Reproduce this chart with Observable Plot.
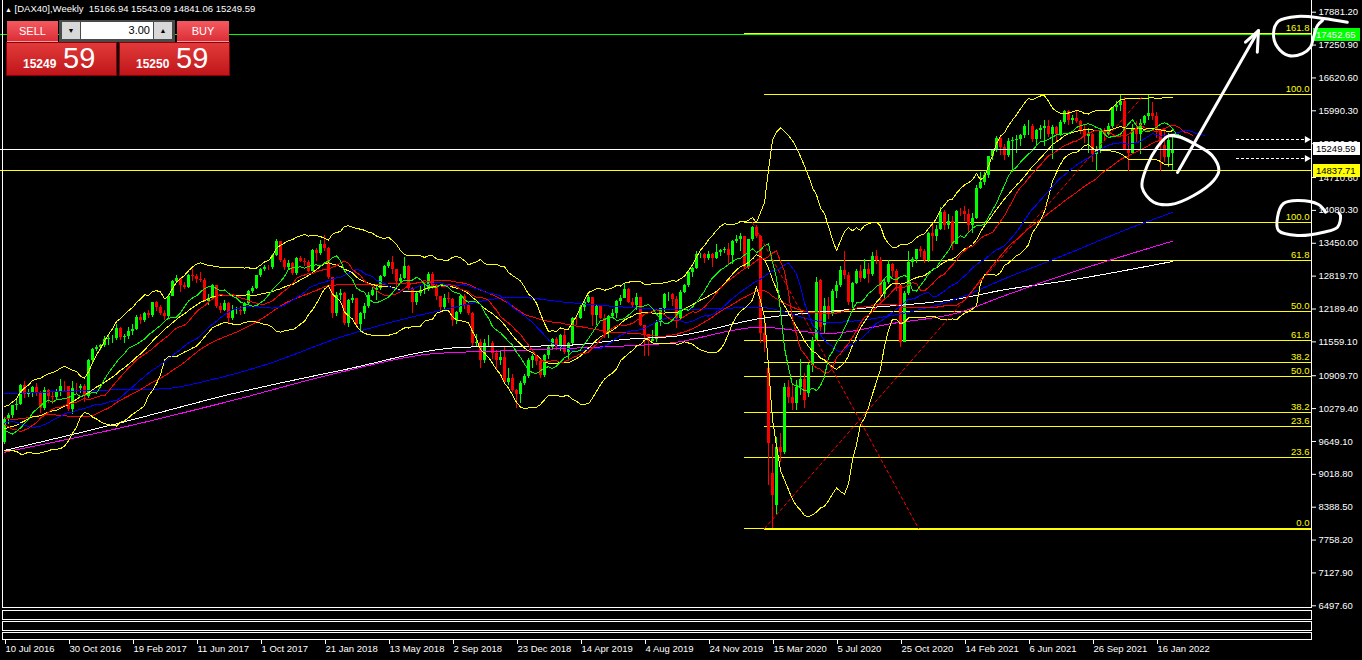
<!DOCTYPE html>
<html><head><meta charset="utf-8">
<script src="https://cdn.jsdelivr.net/npm/d3@7"></script>
<script src="https://cdn.jsdelivr.net/npm/@observablehq/plot@0.6"></script>
<style>
html,body{margin:0;padding:0;background:#000;overflow:hidden;}
#wrap{position:relative;width:1362px;height:660px;overflow:hidden;background:#000;font-family:"Liberation Sans",Arial,sans-serif;}
.abs{position:absolute;box-sizing:border-box;}
#chart,#ann{position:absolute;left:0;top:0;}
#chart svg,#ann svg{display:block;}
#ann{z-index:3;pointer-events:none;}
.frame{border:1px solid #fff;z-index:1;}
.tag{z-index:2;height:13px;width:47px;left:1313px;font-size:9.5px;line-height:13px;padding-left:3px;}
.btn{color:#fff;font-size:11px;text-align:center;line-height:20px;background:linear-gradient(#f45a60,#dc2e37);border-bottom:1px solid #ff9aa0;}
.pbox{top:42px;height:34px;width:111px;background:linear-gradient(#e23a3a,#c0161a);border:1px solid #8a0008;color:#fff;}
.small{position:absolute;font-weight:bold;font-size:12px;line-height:12px;}
.big{position:absolute;font-size:29px;line-height:29px;}
.arrbtn{top:2px;width:18px;height:17px;background:#d8d8d8;color:#000;font-size:7px;text-align:center;line-height:17px;}
</style></head>
<body><div id="wrap">
<div id="chart"></div>
<div id="ann"></div>
<div class="abs frame" style="left:2px;top:-2px;width:1310px;height:610px;"></div>
<div class="abs frame" style="left:2px;top:610px;width:1310px;height:10px;"></div>
<div class="abs frame" style="left:2px;top:621px;width:1310px;height:10px;"></div>
<div class="abs frame" style="left:2px;top:632px;width:1310px;height:8px;"></div>
<div id="hdr" class="abs" style="left:5px;top:3px;color:#fff;font-size:9.5px;white-space:pre;z-index:2;"></div>
<div class="abs btn" style="left:7px;top:21px;width:51px;height:21px;z-index:2;">SELL</div>
<div class="abs" style="left:59px;top:20px;width:116px;height:22px;background:#4a4a4a;z-index:2;">
  <div class="abs arrbtn" style="left:3px;">&#9660;</div>
  <div class="abs" style="left:22px;top:2px;width:72px;height:17px;background:#fff;color:#000;font-size:11px;line-height:17px;text-align:right;padding-right:3px;">3.00</div>
  <div class="abs arrbtn" style="left:95px;">&#9650;</div>
</div>
<div class="abs btn" style="left:177px;top:21px;width:52px;height:21px;z-index:2;">BUY</div>
<div class="abs pbox" style="left:6px;z-index:2;"><span class="small" style="left:16px;top:15px;">15249</span><span class="big" style="left:56px;top:1px;">59</span></div>
<div class="abs pbox" style="left:119px;z-index:2;"><span class="small" style="left:16px;top:15px;">15250</span><span class="big" style="left:56px;top:1px;">59</span></div>
</div>
<script>
// ---------- weekly candles DAX40 (10 Jul 2016 .. 13 Feb 2022) ----------
const open = [9630,10066,10147,10337,10367,10713,10544,10588,10683,10573,
10276,10626,10511,10490,10580,10711,10696,10259,10668,10665,
10700,10513,11203,11404,11450,11481,11599,11629,11630,11814,
11651,11666,11757,11804,12027,11963,12095,12064,12313,12225,
12109,12049,12438,12717,12770,12638,12602,12823,12815,12752,
12733,12325,12389,12631,12240,12163,12298,12014,12165,12168,
12142,12304,12519,12592,12829,12956,12992,12991,13217,13478,
13127,12994,13060,12861,13153,13104,13072,12918,13320,13245,
13434,13341,12785,12107,12452,12483,11913,12346,12390,11886,
12096,12241,12442,12540,12580,12820,13001,13077,12938,12724,
12767,13010,12580,12306,12496,12541,12561,12860,12616,12424,
12210,12394,12364,11960,12124,12431,12247,12111,11523,11553,
11201,11519,11529,11341,11193,11257,10788,10865,10634,10559,
10768,10887,11205,11281,11180,10906,11299,11457,11602,11458,
11685,11364,11526,12010,11999,12222,12315,12412,12060,12238,
12011,11727,12045,12096,12340,12399,12568,12323,12260,12419,
11872,11693,11563,11612,11939,12191,12468,12468,12380,12012,
12511,12633,12894,12961,13228,13241,13163,13236,13166,13282,
13318,13337,13219,13483,13526,13577,12982,13514,13744,13579,
11720,11050,9030,8420,9530,9440,10680,10500,10370,10680,
10840,10560,11100,11580,12730,11880,12230,12089,12528,12633,
12920,12838,12313,12675,12901,12765,12945,12842,13202,13116,
12469,12689,13051,12909,12646,11556,12480,13077,13137,13335,
13298,13114,13630,13587,13718,14049,13787,13873,13432,14056,
14050,13993,13786,13920,14502,14621,14749,15107,15234,15460,
15280,15136,15400,15417,15438,15520,15693,15693,15448,15607,
15650,15688,15540,15669,15544,15761,15977,15808,15852,15781,
15609,15490,15531,15156,15206,15587,15543,15688,16054,16094,
16160,15257,15169,15623,15532,15756,15885,15948,15883,15603,
15318,15099,15166.94];
const high = [10110,10180,10340,10440,10740,10800,10640,10700,10760,10600,
10690,10640,10580,10650,10830,10800,10700,10800,10760,10740,
10750,11220,11430,11480,11500,11670,11700,11690,11890,11830,
11700,11840,11890,12060,12080,12120,12160,12320,12340,12260,
12160,12460,12730,12840,12780,12700,12850,12950,12860,12890,
12780,12470,12660,12640,12300,12350,12320,12250,12220,12230,
12320,12540,12630,12840,12970,13020,13030,13240,13525,13480,
13150,13110,13090,13170,13200,13160,13110,13330,13350,13500,
13600,13370,12790,12500,12560,12510,12380,12470,12400,12130,
12290,12500,12600,12620,12830,13020,13110,13200,12950,12850,
13170,13020,12600,12530,12630,12680,12890,12880,12660,12430,
12460,12500,12400,12150,12440,12460,12330,12120,11700,11600,
11600,11690,11560,11400,11380,11470,11040,10930,10640,10800,
10940,11240,11310,11290,11230,11320,11480,11620,11640,11700,
11790,11550,12020,12050,12250,12340,12440,12400,12250,12200,
12080,12060,12180,12350,12440,12660,12580,12400,12480,12410,
11880,11700,11780,11960,12200,12480,12500,12480,12420,12550,
12660,12900,12990,13290,13250,13260,13300,13250,13420,13330,
13370,13450,13500,13600,13640,13580,13520,13770,13800,13600,
12050,11100,9600,9720,9800,10760,10820,10720,10820,11230,
10950,11150,11650,12800,12750,12400,12410,12560,12710,13000,
13300,12880,12690,12950,13020,13130,13060,13270,13320,13170,
12780,13120,13070,12940,12660,12520,13300,13180,13340,13390,
13330,13650,13790,13800,14130,14070,14000,13960,14080,14110,
14160,14090,14030,14560,14810,14800,15120,15240,15500,15510,
15350,15460,15470,15520,15530,15730,15800,15730,15640,15700,
15810,15800,15700,15690,15810,15990,16000,15900,15990,15810,
15730,15650,15550,15300,15600,15650,15740,16060,16160,16290,
16250,15500,15730,15790,15830,15900,16285,16140,15960,15610,
15650,15550,15543.09];
const low = [9590,9980,10080,10250,10330,10480,10500,10490,10520,10190,
10250,10380,10360,10440,10520,10600,10230,10170,10550,10570,
10400,10480,11160,11380,11400,11450,11480,11530,11580,11580,
11520,11610,11690,11780,11900,11930,12000,12030,12150,12070,
11970,11990,12420,12680,12500,12560,12580,12710,12680,12700,
12320,12250,12370,12200,12110,12140,11900,11960,12080,12070,
12090,12280,12490,12570,12800,12900,12920,12950,13200,13080,
12930,12950,12840,12840,13080,13000,12880,12920,13100,13210,
13290,12760,12000,12050,12350,11880,11830,12300,11830,11730,
11980,12200,12420,12360,12550,12800,12960,12860,12600,12650,
12760,12510,12100,12260,12430,12460,12530,12560,12350,12100,
12170,12300,11860,11900,12090,12180,12070,11450,11450,11050,
11140,11450,11230,11010,11100,10780,10720,10580,10280,10380,
10720,10860,11050,11110,10860,10880,11220,11420,11390,11370,
11310,11220,11490,11880,11990,12140,12290,11860,11880,11990,
11620,11620,12000,12010,12250,12390,12300,12220,12170,11850,
11270,11270,11560,11550,11850,12130,12330,12230,11820,11980,
12490,12600,12800,12950,13150,13060,13120,12980,13140,13200,
13250,13050,13040,13440,13300,12950,12940,13480,13550,11530,
11350,8800,7980,8250,9250,9400,10380,10250,10250,10540,
10290,10500,10980,11560,11760,11700,11980,12050,12400,12600,
12760,12250,12200,12650,12700,12760,12680,12820,13050,12340,
12380,12650,12800,12530,11450,11550,12450,12980,13070,13170,
13060,13090,13300,13480,13700,13690,13720,13310,13420,13960,
13870,13640,13630,13910,14480,14550,14700,15040,15200,15130,
15040,15100,14810,15170,15300,15460,15520,15390,15300,15440,
15300,15480,15050,15400,15500,15730,15710,15720,15740,15530,
15370,15170,15000,14820,15180,15400,15500,15650,15970,15970,
15220,14820,15150,15390,15160,15710,15800,15810,15450,14820,
15000,14900,14841.06];
const close = [10066,10147,10337,10367,10713,10544,10588,10683,10573,10276,
10626,10511,10490,10580,10711,10696,10259,10668,10665,10700,
10513,11203,11404,11450,11481,11599,11629,11630,11814,11651,
11666,11757,11804,12027,11963,12095,12064,12313,12225,12109,
12049,12438,12717,12770,12638,12602,12823,12815,12752,12733,
12325,12389,12631,12240,12163,12298,12014,12165,12168,12142,
12304,12519,12592,12829,12956,12992,12991,13217,13478,13127,
12994,13060,12861,13153,13104,13072,12918,13320,13245,13434,
13341,12785,12107,12452,12483,11913,12346,12390,11886,12096,
12241,12442,12540,12580,12820,13001,13077,12938,12724,12767,
13010,12580,12306,12496,12541,12561,12860,12616,12424,12210,
12394,12364,11960,12124,12431,12247,12111,11523,11553,11201,
11519,11529,11341,11193,11257,10788,10865,10634,10559,10768,
10887,11205,11281,11180,10906,11299,11457,11602,11458,11685,
11364,11526,12010,11999,12222,12315,12412,12060,12238,12011,
11727,12045,12096,12340,12399,12568,12323,12260,12419,11872,
11693,11563,11612,11939,12191,12468,12468,12380,12012,12511,
12633,12894,12961,13228,13241,13163,13236,13166,13282,13318,
13337,13219,13483,13526,13577,12982,13514,13744,13579,11720,
11550,9610,8610,9530,9440,10680,10500,10370,10680,10840,
10430,11100,11580,12700,11830,12230,12089,12528,12633,12920,
12838,12313,12675,12901,12765,12945,12842,13202,13116,12469,
12689,13051,12909,12646,11556,12480,13077,13137,13335,13298,
13114,13630,13587,13718,14049,13787,13873,13432,14056,14050,
13993,13786,13920,14502,14621,14749,15107,15234,15460,15280,
15136,15400,15417,15438,15520,15693,15693,15448,15607,15650,
15688,15540,15669,15544,15761,15977,15808,15852,15781,15609,
15490,15531,15156,15206,15587,15543,15688,16054,16094,16160,
15257,15169,15623,15532,15756,15885,15948,15883,15603,15318,
15099,15425,15249.59];
// weekly closes before the first visible bar (indicator warm-up)
const histClose = [11673,11347,11308,11490,10985,10124,10298,10038,10123,10104,
9688,9553,10096,10104,10795,10850,10988,10708,11119,11293,
10752,10340,10608,10727,10743,9849,9545,9764,9798,9286,
8967,9388,9513,9824,9831,9950,9851,9794,9622,10051,
10373,10039,9870,9952,9917,10287,10103,9834,9631,9558,
9776,9630];

// long moving averages (bar index, value)
const sma100Idx = [0,21,40,51,66,84,109,128,140,155,167,189,206,222,239,249,266,282,292];
const sma100Val = [10564,10627,10659,10819,11139,11649,12161,12416,12321,12225,12175,12219,11931,12065,12410,12737,13255,13759,14041];
const sma200Idx = [0,28,57,84,115,140,157,167,189,214,239,249,266,292];
const sma200Val = [9476,9988,10564,11010,11457,11490,11618,11662,12008,12199,12391,12545,12737,13101];
const emaIdx = [0,28,57,84,107,128,148,167,189,206,222,239,249,266,292];
const emaVal = [9443,9892,10435,10978,11331,11394,11457,11542,11841,11720,11912,12129,12416,12871,13490];

// Fibonacci objects
const fibALabels = ["0.0","23.6","38.2","50.0","61.8","100.0","161.8"];
const fibAPrices = [7980,9342,10199,10889,11579,13848,17473];
const fibAStart = 185;
const fibBLabels = ["0.0","23.6","38.2","50.0","61.8","100.0"];
const fibBPrices = [7962,9930,11158,12141,13119,16297];
const fibBStart = 190;
const fibATrendIdx = [187, 228.5], fibATrendVal = [13848, 7980];
const fibBTrendIdx = [190, 284.75], fibBTrendVal = [7980, 16283];

// horizontal levels
const bid = 15249.59;
const yellowLevel = 14837.71;
const greenLevel = 17452.65;
const orderLevels = [15440, 15075];
const orderFrom = 308, orderTo = 325.6;

// axes
const yTicks = [17881.20,17250.90,16620.60,15990.30,15360.00,14710.60,14080.30,13450.00,12819.70,12189.40,11559.10,10909.70,10279.40,9649.10,9018.80,8388.50,7758.20,7127.90,6497.60];
const xTickIdx = [0,16,32,48,64,80,96,112,128,144,160,176,192,208,224,240,256,272,288];
const xTickLabels = ["10 Jul 2016","30 Oct 2016","19 Feb 2017","11 Jun 2017","1 Oct 2017","21 Jan 2018","13 May 2018","2 Sep 2018","23 Dec 2018","14 Apr 2019","4 Aug 2019","24 Nov 2019","15 Mar 2020","5 Jul 2020","25 Oct 2020","14 Feb 2021","6 Jun 2021","26 Sep 2021","16 Jan 2022"];
const xDomain = [-1, 326.75];
const yDomain = [6497.6, 17881.2];
const yPixelRange = [605.3, 11.7];

// hand-drawn annotations (bar index, price)
const arrowShaft = [[293.25,14807],[313.5,17530]];
const arrowHead = [[310.25,17306],[313.5,17530],[313.2,17114]];
const circleTop = [[335.7,17689],[329.75,17760],[323.25,17799],[318.5,17708],[317.25,17473],[318.25,17210],[321,17051],[324.5,17089],[326.5,17210],[327.25,17402],[328.25,17626],[329.5,17722]];
const circleLast = [[291.5,15517],[294,15484],[298.2,15325],[301.9,15133],[303.6,14845],[302.3,14654],[297.3,14366],[291.5,14193],[287.3,14237],[284.4,14525],[285.7,14941],[288.2,15292],[290.7,15497],[292.5,15520]];
const circleLow = [[330.25,14046],[328.5,14193],[323.25,14270],[319.75,14213],[318.25,13950],[318.5,13695],[323.25,13599],[329.75,13662],[333.25,13758],[334,13982],[333.6,14030]];

// ---------- build ----------
const candles = close.map((c,i)=>({i, o:open[i], h:high[i], l:low[i], c, col: c>=open[i] ? "#00ff00" : "#ff0000"}));
const all = histClose.concat(close);
const off = histClose.length;
const bbMid=[], bbUp=[], bbLo=[], sma50=[];
close.forEach((c,i)=>{
  const t=i+off;
  const w=all.slice(t-19,t+1);
  const m=d3.mean(w);
  const sd=Math.sqrt(d3.mean(w,v=>(v-m)*(v-m)));
  bbMid.push({i,v:m}); bbUp.push({i,v:m+2*sd}); bbLo.push({i,v:m-2*sd});
  sma50.push({i,v:d3.mean(all.slice(Math.max(0,t-49),t+1))});
});
function smma(n){const out=[];let s=d3.mean(all.slice(0,n));out[n-1]=s;for(let t=n;t<all.length;t++){s=(s*(n-1)+all[t])/n;out[t]=s;}return out;}
function alligator(n,shift){const s=smma(n);const r=[];for(let t=0;t<all.length;t++){const i=t-off+shift;if(s[t]!==undefined&&i>=0)r.push({i,v:s[t]});}return r;}
const jaw=alligator(13,8), teeth=alligator(8,5), lips=alligator(5,3);
const pairs=(idx,val)=>idx.map((i,k)=>({i,v:val[k]}));
const fibA=fibALabels.map((l,k)=>({l,p:fibAPrices[k]}));
const fibB=fibBLabels.map((l,k)=>({l,p:fibBPrices[k]}));
const fmt=d3.format(".2f");
const crisp={shapeRendering:"crispEdges"};
const ln=(data,stroke,extra={})=>Plot.line(data,{x:"i",y:"v",stroke,strokeWidth:1,...crisp,...extra});

const common={width:1362,height:660,marginLeft:0,marginRight:51,marginTop:0,marginBottom:20,
  x:{domain:xDomain,axis:null,label:null},y:{domain:yDomain,range:yPixelRange,axis:null,label:null}};

const chart = Plot.plot({...common,
  style:{background:"#000",color:"#fff",fontFamily:"'Liberation Sans',Arial,sans-serif",fontSize:"9.5px",overflow:"visible"},
  marks:[
    Plot.ruleY(fibA,{y:"p",x1:fibAStart,x2:xDomain[1],stroke:"#ffff00",strokeWidth:1,...crisp}),
    Plot.ruleY(fibB,{y:"p",x1:fibBStart,x2:xDomain[1],stroke:"#ffff00",strokeWidth:1,...crisp}),
    Plot.ruleY([yellowLevel],{stroke:"#ffff00",strokeWidth:1,...crisp}),
    Plot.ruleY([greenLevel],{stroke:"#00ff00",strokeWidth:1,...crisp}),
    Plot.ruleX(candles,{x:"i",y1:"l",y2:"h",stroke:"col",strokeWidth:1,...crisp}),
    Plot.ruleX(candles,{x:"i",y1:"o",y2:"c",stroke:"col",strokeWidth:3,...crisp}),
    ln(pairs(sma200Idx,sma200Val),"#ffffff",{curve:"monotone-x"}),
    ln(pairs(emaIdx,emaVal),"#ff00ff",{curve:"monotone-x"}),
    ln(pairs(sma100Idx,sma100Val),"#0000ff",{curve:"monotone-x"}),
    ln(sma50,"#ff0000"),
    ln(bbUp,"#ffff00"), ln(bbMid,"#ffff00"), ln(bbLo,"#ffff00"),
    ln(jaw,"#0000ff"), ln(teeth,"#ff0000"), ln(lips,"#00ff00"),
    Plot.line(pairs(fibATrendIdx,fibATrendVal),{x:"i",y:"v",stroke:"#ff0000",strokeDasharray:"3,3",strokeWidth:1}),
    Plot.line(pairs(fibBTrendIdx,fibBTrendVal),{x:"i",y:"v",stroke:"#ff0000",strokeDasharray:"3,3",strokeWidth:1}),
    Plot.ruleY([bid],{stroke:"#ffffff",strokeWidth:1,...crisp}),
    Plot.ruleY(orderLevels,{y:d=>d,x1:orderFrom,x2:orderTo,stroke:"#fff",strokeDasharray:"3,2",strokeWidth:1,...crisp}),
    Plot.dot(orderLevels,{y:d=>d,x:orderTo,symbol:"triangle",rotate:90,r:2.6,fill:"#fff",stroke:null}),
    Plot.text(fibA,{y:"p",x:xDomain[1],text:"l",textAnchor:"end",dx:-2,dy:-6,fill:"#ffff00",fontWeight:d=>d.l==="0.0"?"bold":"normal"}),
    Plot.text(fibB.filter(d=>d.l!=="0.0"),{y:"p",x:xDomain[1],text:"l",textAnchor:"end",dx:-2,dy:-6,fill:"#ffff00"}),
    Plot.axisY({ticks:yTicks,anchor:"right",label:null,tickFormat:fmt,tickSize:4,tickPadding:3,stroke:"#fff",fill:"#fff"}),
    Plot.axisX({ticks:xTickIdx,anchor:"bottom",label:null,tickFormat:d=>xTickLabels[xTickIdx.indexOf(d)],tickSize:4,tickPadding:1,textAnchor:"start",dx:1,stroke:"#fff",fill:"#fff"})
  ]});
document.getElementById("chart").append(chart);

const annStyle={stroke:"#fff",strokeWidth:3,strokeLinecap:"round",strokeLinejoin:"round",fill:"none"};
const ann = Plot.plot({...common,
  style:{background:"transparent",overflow:"visible"},
  marks:[
    Plot.line(arrowShaft,{x:d=>d[0],y:d=>d[1],...annStyle}),
    Plot.line(arrowHead,{x:d=>d[0],y:d=>d[1],...annStyle}),
    Plot.line(circleTop,{x:d=>d[0],y:d=>d[1],curve:"catmull-rom",...annStyle}),
    Plot.line(circleLast,{x:d=>d[0],y:d=>d[1],curve:"catmull-rom",...annStyle}),
    Plot.line(circleLow,{x:d=>d[0],y:d=>d[1],curve:"catmull-rom",...annStyle})
  ]});
document.getElementById("ann").append(ann);

// price tags on the price scale
const ys = chart.scale("y");
const wrap = document.getElementById("wrap");
[[greenLevel,"#00ff00","#ffffff"],[bid,"#ffffff","#000000"],[yellowLevel,"#ffff00","#000000"]].forEach(([v,bg,fg])=>{
  const d=document.createElement("div");
  d.className="abs tag";
  d.style.top=(ys.apply(v)-6.5)+"px";
  d.style.background=bg; d.style.color=fg;
  d.textContent=fmt(v);
  wrap.append(d);
});
const last=close.length-1;
document.getElementById("hdr").innerHTML='<span style="font-size:7px">&#9650;</span> [DAX40],Weekly  '+[open[last],high[last],low[last],close[last]].map(fmt).join(" ");
</script>
</body></html>
